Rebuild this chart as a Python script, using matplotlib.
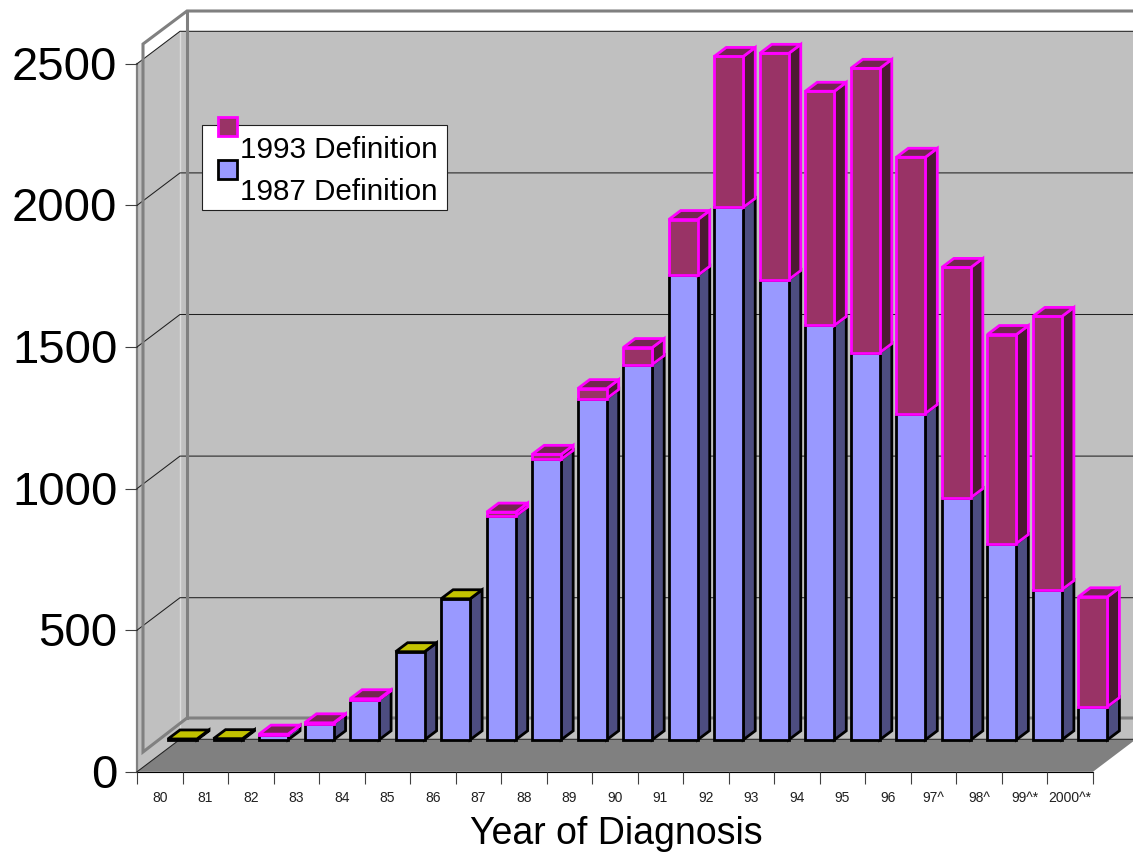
# 3d look stacked bars, Year of Diagnosis

import matplotlib
matplotlib.use('Agg')
import matplotlib.pyplot as plt
from matplotlib.patches import Rectangle
from matplotlib.transforms import Affine2D, ScaledTranslation
from matplotlib.ticker import FixedLocator

plt.rcParams['font.family'] = ['Liberation Sans', 'DejaVu Sans']

years = ['80', '81', '82', '83', '84', '85', '86', '87', '88', '89', '90',
         '91', '92', '93', '94', '95', '96', '97^', '98^', '99^*', '2000^*']
def87 = [3, 4, 18, 57, 141, 311, 498, 790, 990, 1205, 1325,
         1640, 1880, 1625, 1463, 1367, 1152, 855, 693, 530, 117]
def93 = [0, 0, 2, 3, 4, 0, 0, 14, 18, 35, 60,
         197, 533, 799, 827, 1004, 905, 813, 738, 965, 388]
yticks = [0, 500, 1000, 1500, 2000, 2500]

W, H = 1133, 853
XS = 45.52     # px per category
YS = 0.2832    # px per case
X0, Y0 = 137, 772.8

# depth of the box and of the bars, in data units
box_dx, box_dy = 43 / XS, 32.5 / YS
bar_ox, bar_oy = 31 / XS, 113.0
bar_w = 29 / XS
bar_dx, bar_dy = 12 / XS, 9 / YS

fig = plt.figure(figsize=(W / 100, H / 100), dpi=100)
ax = fig.add_axes([0, 0, 1, 1])
ax.set_xlim(-X0 / XS, (W - X0) / XS)
ax.set_ylim(-(H - Y0) / YS, Y0 / YS)
ax.patch.set_visible(False)

n = len(years)
xend = ax.get_xlim()[1]
top = yticks[-1]

# walls and floor
ax.fill([0, box_dx, box_dx, 0], [0, box_dy, top + box_dy, top], fc='#c0c0c0', ec='none', zorder=1)
ax.fill([box_dx, xend, xend, box_dx], [box_dy, box_dy, top + box_dy, top + box_dy],
        fc='#c0c0c0', ec='none', zorder=1)
ax.fill([0, n, n + box_dx, box_dx], [0, 0, box_dy, box_dy], fc='#808080', ec='none', zorder=2)
ax.plot([box_dx, box_dx], [box_dy, top + box_dy], c='#dcdcdc', lw=1, zorder=2)

for v in yticks:
    ax.plot([0, box_dx, xend], [v, v + box_dy, v + box_dy], c='#202020', lw=0.75, zorder=3)

# grey frame floating around the walls
px = Affine2D().scale(1, -1).translate(0, H)
frame = [[(1133, 12), (187, 12), (143, 45), (143, 753), (187, 719), (1133, 719)],
         [(187, 12), (187, 719)]]
for line in frame:
    ax.plot([p[0] for p in line], [p[1] for p in line], c='#808080', lw=2.2,
            transform=px, zorder=3, solid_joinstyle='miter')


def box(i, v0, v1, front, side, lid, edge, z):
    x0 = i + bar_ox
    x1 = x0 + bar_w
    y0 = v0 + bar_oy
    y1 = v1 + bar_oy
    kw = dict(ec=edge, lw=2.0, joinstyle='miter', zorder=z)
    ax.fill([x1, x1 + bar_dx, x1 + bar_dx, x1], [y0, y0 + bar_dy, y1 + bar_dy, y1], fc=side, **kw)
    ax.fill([x0, x1, x1, x0], [y0, y0, y1, y1], fc=front, **kw)
    if lid:
        ax.fill([x0, x1, x1 + bar_dx, x0 + bar_dx], [y1, y1, y1 + bar_dy, y1 + bar_dy], fc=lid, **kw)


z = 10
for i in range(n):
    low = def87[i]
    extra = def93[i]
    box(i, 0, low, '#9999ff', '#4d4d80', None if extra else '#c2c200', 'black', z)
    if extra:
        box(i, low, low + extra, '#993366', '#4d1a33', '#732650', '#ff00ff', z + 1)
    z += 2

# axes
for s in ['top', 'right']:
    ax.spines[s].set_visible(False)
ax.spines['left'].set_position(('data', 0))
ax.spines['left'].set_bounds(0, top)
ax.spines['left'].set_color('#808080')
ax.spines['left'].set_linewidth(1.6)
ax.spines['bottom'].set_position(('data', 0))
ax.spines['bottom'].set_bounds(0, n)
ax.spines['bottom'].set_linewidth(0.8)
ax.set_axisbelow(False)

ax.set_yticks(yticks)
ax.set_yticklabels([str(v) for v in yticks])
ax.tick_params(axis='y', labelsize=34, length=8.6, width=0.8, color='#404040', pad=5.5)
for t in ax.get_yticklabels():
    t.set_transform(t.get_transform() + ScaledTranslation(0, 2 / 100, fig.dpi_scale_trans))

ax.set_xticks(range(n + 1))
ax.set_xticklabels([])
ax.xaxis.set_minor_locator(FixedLocator([i + 0.5 for i in range(n)]))
ax.set_xticklabels(years, minor=True)
ax.tick_params(axis='x', which='major', length=8.6, width=0.8, color='#404040')
ax.tick_params(axis='x', which='minor', length=0, labelsize=10, pad=13, labelcolor='#202020')

fig.text(616 / W, 1 - 834.5 / H, 'Year of Diagnosis', fontsize=27, ha='center', va='center')

# legend, placed by hand like the original
ax.add_patch(Rectangle((202, 125.5), 245, 85, fc='white', ec='#202020', lw=0.8, transform=px, zorder=100))
ax.add_patch(Rectangle((218, 118), 19, 19, fc='#993366', ec='#ff00ff', lw=2.0, transform=px, zorder=101))
ax.add_patch(Rectangle((218, 161), 19, 19, fc='#9999ff', ec='black', lw=2.0, transform=px, zorder=101))
ax.text(240, 158, '1993 Definition', fontsize=21.3, transform=px, zorder=102, va='baseline')
ax.text(240, 200, '1987 Definition', fontsize=21.3, transform=px, zorder=102, va='baseline')

fig.savefig('out.png', dpi=100)
